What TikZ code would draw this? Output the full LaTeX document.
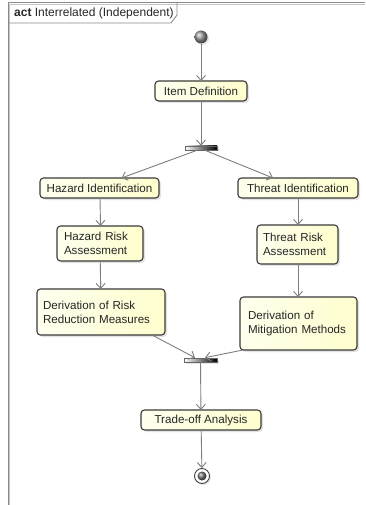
\documentclass[tikz,border=0pt]{standalone}
\usepackage{fontspec}
\setmainfont{Liberation Sans}
\usetikzlibrary{arrows.meta,shadows}
\definecolor{boxfill}{HTML}{FEFECE}
\definecolor{boxline}{HTML}{3A3A3A}
\definecolor{wire}{HTML}{7E7E7E}
\definecolor{framegray}{HTML}{8A8A8A}
\tikzset{
  txt/.style={font=\fontsize{11.6}{14}\selectfont, text=black!85},
  action/.style={txt, draw=boxline, line width=1.1pt, rounded corners=3.5pt,
    left color=boxfill!35!white, right color=boxfill,
    drop shadow={shadow xshift=2pt, shadow yshift=-2pt, opacity=0.22},
    inner ysep=0pt, outer sep=0pt},
  single/.style={action, align=center, inner xsep=0pt},
  multi/.style={action, align=left},
  bar/.style={draw=black!60, line width=0.6pt, left color=white, right color=black,
    rectangle, inner sep=0pt, minimum height=4pt,
    drop shadow={shadow xshift=1.5pt, shadow yshift=-1.5pt, opacity=0.2}},
  conn/.style={draw=wire, line width=0.9pt, -{Straight Barb[length=5pt,width=9pt]}},
}
\begin{document}
\begin{tikzpicture}[x=1pt,y=-1pt]
\useasboundingbox (0,0) rectangle (365,505);
\fill[white] (0,0) rectangle (365,505);

% diagram frame and its name tab
\draw[framegray!50, line width=1pt] (365,4.5) -- (9.5,4.5) -- (9.5,505);
\draw[framegray, line width=1pt] (365,3) -- (8,3) -- (8,505);
\draw[framegray, line width=0.9pt] (8,23) -- (171,23) -- (177,15) -- (177,3);
\node[font=\fontsize{12}{14}\selectfont, text=black!85, anchor=base west, inner sep=0pt] (title) at (14,17)
  {\textbf{act} Interrelated (Independent)};

% initial node
\node[circle, inner sep=0pt, minimum size=13pt, shading=ball, ball color=black!40,
  drop shadow={shadow xshift=1.5pt, shadow yshift=-1.5pt, opacity=0.2}] (start) at (201,37) {};

% actions
\node[single, minimum width=92pt, minimum height=20pt] (item) at (201,91) {Item Definition};
\node[bar, minimum width=32pt] (fork) at (201,148) {};

\node[single, minimum width=119pt, minimum height=20pt] (hazid) at (99.5,188) {Hazard Identification};
\node[multi, inner xsep=7pt, text width=72pt, minimum height=35pt] (hazrisk) at (100,243.5) {Hazard Risk\\Assessment};
\node[multi, inner xsep=6pt, text width=116pt, minimum height=46pt] (reduce) at (101,312) {Derivation of Risk\\Reduction Measures};

\node[single, minimum width=120pt, minimum height=20pt] (thrid) at (298,188) {Threat Identification};
\node[multi, inner xsep=6pt, text width=69pt, minimum height=39pt] (thrrisk) at (297.5,244.5) {Threat Risk\\Assessment};
\node[multi, inner xsep=8pt, text width=101pt, minimum height=53pt] (mitig) at (298.5,323.5) {Derivation of\\Mitigation Methods};

\node[bar, minimum width=33pt] (join) at (200.5,360) {};
\node[single, minimum width=120pt, minimum height=20pt] (trade) at (201,420) {Trade-off Analysis};

% final node
\node[circle, draw=black!75, line width=0.9pt, fill=white, inner sep=0pt, minimum size=15pt,
  drop shadow={shadow xshift=1.5pt, shadow yshift=-1.5pt, opacity=0.2}] (final) at (202,476) {};
\node[circle, inner sep=0pt, minimum size=9pt, shading=ball, ball color=black!55] (finalcore) at (final) {};

% control flow
\draw[conn] (start) -- (item);
\draw[conn] (item) -- (fork);
\draw[conn] ([xshift=-4pt]fork.south) -- ([xshift=22pt]hazid.north);
\draw[conn] ([xshift=4pt]fork.south) -- ([xshift=-25pt]thrid.north);
\draw[conn] ([xshift=0.5pt]hazid.south) -- ([xshift=0.5pt]hazrisk.north);
\draw[conn] (hazrisk) -- (reduce);
\draw[conn] (thrid) -- (thrrisk.north -| thrid);
\draw[conn] (thrrisk.south -| thrid) -- (mitig.north -| thrid);
\draw[conn] ([xshift=51pt]reduce.south) -- ([xshift=-5.5pt]join.north);
\draw[conn] ([xshift=-55.5pt]mitig.south) -- ([xshift=4.5pt]join.north);
\draw[conn] (join) -- (trade);
\draw[conn] (trade) -- (final);
\end{tikzpicture}
\end{document}
